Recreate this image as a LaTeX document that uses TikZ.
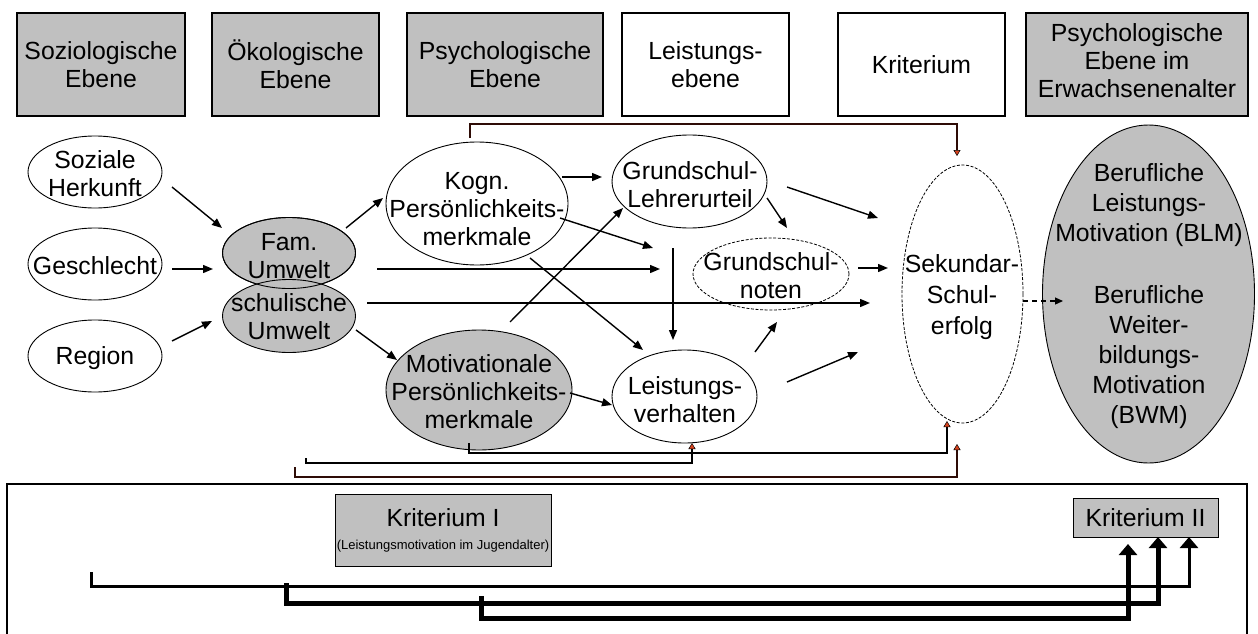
\documentclass[tikz,border=0pt]{standalone}
\usepackage{fontspec}
\setmainfont{Liberation Sans}
\usetikzlibrary{shapes.geometric,arrows.meta}
\definecolor{gfill}{HTML}{C0C0C0}
\definecolor{brk}{HTML}{2E0C06}
\definecolor{tipred}{HTML}{D8431E}
\begin{document}
\begin{tikzpicture}[x=1pt,y=-1pt,
  every node/.style={font=\fontsize{24.8}{28}\selectfont, align=center, inner sep=0pt, text=black},
  hdr/.style={draw, line width=1.2pt, rectangle, inner sep=0pt},
  ell/.style={ellipse, draw, line width=0.9pt, fill=white, inner sep=0pt},
  gell/.style={ell, fill=gfill},
  dell/.style={ell, dash pattern=on 3pt off 1.6pt, line width=0.8pt},
  arr/.style={line width=1.4pt, -{Triangle[length=10pt,width=8pt]}},
  brack/.style={line width=1.3pt, -{Triangle[length=6pt,width=7pt,fill=tipred,color=black,line width=0.5pt]}},
  bigarr/.style={-{Triangle[length=11pt,width=18pt]}}
]
\useasboundingbox (0,0) rectangle (1258,634);
\fill[white] (0,0) rectangle (1258,634);

% header boxes
\node[hdr, fill=gfill, minimum width=168pt, minimum height=103pt] (h1) at (101,64.5) {Soziologische\\Ebene};
\node[hdr, fill=gfill, minimum width=167pt, minimum height=103pt] (h2) at (295.5,64.5) {Ökologische\\Ebene};
\node[hdr, fill=gfill, minimum width=196pt, minimum height=103pt] (h3) at (505,64.5) {Psychologische\\Ebene};
\node[hdr, fill=white, minimum width=167pt, minimum height=103pt] (h4) at (705.5,64.5) {Leistungs-\\ebene};
\node[hdr, fill=white, minimum width=167pt, minimum height=103pt] (h5) at (921.5,64.5) {Kriterium};
\node[hdr, fill=gfill, minimum width=222pt, minimum height=103pt] (h6) at (1137,64.5) {};
\node (h6t) at (1137,61) {Psychologische\\Ebene im\\Erwachsenenalter};

% ellipses
\node[ell, minimum width=134pt, minimum height=72pt] (soz) at (95,172) {};
\node[ell, minimum width=134pt, minimum height=72pt] (ges) at (95,264) {};
\node[ell, minimum width=134pt, minimum height=72pt] (reg) at (95,356) {};
\node[gell, minimum width=133pt, minimum height=71pt] (fam) at (289,253) {};
\node[gell, minimum width=133pt, minimum height=73pt] (schul) at (289,316) {};
\draw[line width=0.9pt] (289,253) ellipse [x radius=66.5, y radius=35.5];
\node[ell, minimum width=182pt, minimum height=123pt] (kogn) at (477,203.5) {};
\node[gell, minimum width=186pt, minimum height=120pt] (motiv) at (479,390) {};
\node[ell, minimum width=155pt, minimum height=93pt] (lehr) at (689.5,181.5) {};
\node[dell, minimum width=156pt, minimum height=72pt] (noten) at (771,274) {};
\node[ell, minimum width=145pt, minimum height=93pt] (leist) at (684.5,396.5) {};
\node[dell, minimum width=121pt, minimum height=258pt] (sek) at (962.5,294) {};
\node[gell, minimum width=212pt, minimum height=338pt] (beruf) at (1148.5,294) {};

% texts
\node (sozt) at (95,174) {Soziale\\Herkunft};
\node (gest) at (95,266) {Geschlecht};
\node (regt) at (95,358) {Region};
\node (famt) at (289,256) {Fam.\\Umwelt};
\node (schult) at (289,317) {schulische\\Umwelt};
\node (kognt) at (477,209) {Kogn.\\Persönlichkeits-\\merkmale};
\node (motivt) at (479,392) {Motivationale\\Persönlichkeits-\\merkmale};
\node (lehrt) at (690,185) {Grundschul-\\Lehrerurteil};
\node (notent) at (771,276) {Grundschul-\\noten};
\node (leistt) at (685,400) {Leistungs-\\verhalten};
\node[font=\fontsize{24.8}{31}\selectfont] (sekt) at (962,297) {Sekundar-\\Schul-\\erfolg};
\node[font=\fontsize{24.8}{30}\selectfont] (beruft) at (1149,296) {Berufliche\\Leistungs-\\Motivation (BLM)\\[32pt]Berufliche\\Weiter-\\bildungs-\\Motivation\\(BWM)};

% arrows between nodes (free-floating ends)
\foreach \ax/\ay/\bx/\by [count=\i] in {
  172/187/222/228, 172/269/213/269, 172/341/212/321,
  346/228/383/198, 356/330/397/360, 377/269/660/269,
  367/303/870/303, 562/177/602/177, 560/218/653/248,
  530/258/643/350, 510/322/623/208, 570/393/612/405,
  673/248/673/340, 767/198/787/228, 787/187/878/218,
  858/268/888/268, 755/352/777/322, 787/382/858/352}
{
  \coordinate (s\i) at (\ax,\ay);
  \coordinate (e\i) at (\bx,\by);
  \draw[arr] (s\i) -- (e\i);
}

% dashed arrow Sekundar -> Berufliche
\coordinate (ds) at (1023,301);
\coordinate (de) at (1063,301);
\draw[line width=1.2pt, dash pattern=on 5pt off 4pt, -{Triangle[length=8pt,width=7pt]}] (ds) -- (de);

% bracket connectors
\coordinate (tb) at (470,138);
\coordinate (tt) at (957,156);
\draw[brack, color=brk] (tb) -- (470,124) -- (957,124) -- (tt);

\coordinate (b1s) at (469,443);
\coordinate (b1e) at (947,421);
\draw[brack] (b1s) -- (469,453) -- (947,453) -- (b1e);

\coordinate (b2s) at (306,458);
\coordinate (b2e) at (692,443);
\draw[brack] (b2s) -- (306,463) -- (692,463) -- (b2e);

\coordinate (b3s) at (295,467);
\coordinate (b3e) at (957,444);
\draw[brack, color=brk] (b3s) -- (295,477) -- (957,477) -- (b3e);

% bottom frame
\draw[line width=2pt] (7,484) rectangle (1247,640);

\node[hdr, line width=0.9pt, fill=gfill, minimum width=216pt, minimum height=72pt] (k1) at (443,530) {};
\node (k1t) at (443,518) {Kriterium I};
\node[font=\fontsize{13}{15}\selectfont] (k1s) at (443,546) {(Leistungsmotivation im Jugendalter)};

\node[hdr, line width=0.9pt, fill=gfill, minimum width=145pt, minimum height=39pt] (k2) at (1145.5,517.5) {Kriterium II};

\coordinate (L1s) at (91,572);
\coordinate (L1e) at (1189,537);
\draw[bigarr, line width=3pt] (L1s) -- (91,586) -- (1189,586) -- (L1e);
\coordinate (L2s) at (286,583);
\coordinate (L2e) at (1158,537);
\draw[bigarr, line width=5pt] (L2s) -- (286,603) -- (1158,603) -- (L2e);
\coordinate (L3s) at (481,596);
\coordinate (L3e) at (1128,544);
\draw[bigarr, line width=5pt] (L3s) -- (481,618) -- (1128,618) -- (L3e);
\end{tikzpicture}
\end{document}
